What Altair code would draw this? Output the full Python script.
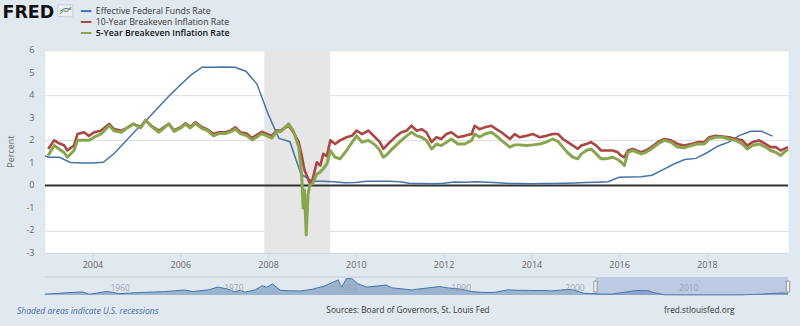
import altair as alt
import pandas as pd

BG = "#e1e9f0"
BLUE = "#4572a7"
RED = "#aa4643"
GREEN = "#89a54e"
FONT = "Open Sans"

# ---------------- data ----------------
series_names = ["Effective Federal Funds Rate", "10-Year Breakeven Inflation Rate",
                "5-Year Breakeven Inflation Rate"]

# quarterly effective federal funds rate (quarter start dates)
ffr_dates = [
    "2002-10-01",
    "2003-01-01", "2003-04-01", "2003-07-01", "2003-10-01",
    "2004-01-01", "2004-04-01", "2004-07-01", "2004-10-01",
    "2005-01-01", "2005-04-01", "2005-07-01", "2005-10-01",
    "2006-01-01", "2006-04-01", "2006-07-01", "2006-10-01",
    "2007-01-01", "2007-04-01", "2007-07-01", "2007-10-01",
    "2008-01-01", "2008-04-01", "2008-07-01", "2008-10-01",
    "2009-01-01", "2009-04-01", "2009-07-01", "2009-10-01",
    "2010-01-01", "2010-04-01", "2010-07-01", "2010-10-01",
    "2011-01-01", "2011-04-01", "2011-07-01", "2011-10-01",
    "2012-01-01", "2012-04-01", "2012-07-01", "2012-10-01",
    "2013-01-01", "2013-04-01", "2013-07-01", "2013-10-01",
    "2014-01-01", "2014-04-01", "2014-07-01", "2014-10-01",
    "2015-01-01", "2015-04-01", "2015-07-01", "2015-10-01",
    "2016-01-01", "2016-04-01", "2016-07-01", "2016-10-01",
    "2017-01-01", "2017-04-01", "2017-07-01", "2017-10-01",
    "2018-01-01", "2018-04-01", "2018-07-01", "2018-10-01",
    "2019-01-01", "2019-04-01", "2019-07-01",
]
ffr_values = [
    1.44,
    1.25, 1.25, 1.02, 1.00,
    1.00, 1.03, 1.43, 1.95,
    2.47, 2.94, 3.46, 3.98,
    4.46, 4.91, 5.25, 5.25,
    5.26, 5.25, 5.07, 4.50,
    3.18, 2.09, 1.94, 0.51,
    0.18, 0.18, 0.16, 0.12,
    0.13, 0.19, 0.19, 0.19,
    0.16, 0.09, 0.08, 0.07,
    0.10, 0.15, 0.14, 0.16,
    0.14, 0.12, 0.08, 0.09,
    0.07, 0.09, 0.09, 0.10,
    0.11, 0.13, 0.14, 0.16,
    0.36, 0.37, 0.39, 0.45,
    0.70, 0.95, 1.15, 1.20,
    1.45, 1.74, 1.92, 2.22,
    2.40, 2.40, 2.19,
]

# breakeven inflation rates (decimal years)
be_years = [
    2002.99, 2003.13, 2003.24, 2003.36, 2003.43, 2003.58, 2003.66, 2003.81, 2003.92,
    2004.04, 2004.19, 2004.38, 2004.49, 2004.66, 2004.81, 2004.93,
    2005.10, 2005.21, 2005.34, 2005.51, 2005.74, 2005.86,
    2006.01, 2006.12, 2006.23, 2006.35, 2006.50, 2006.61, 2006.76, 2006.88,
    2007.03, 2007.14, 2007.26, 2007.37, 2007.52, 2007.64, 2007.75, 2007.86, 2007.98,
    2008.09, 2008.20, 2008.28, 2008.47, 2008.58, 2008.70, 2008.77, 2008.80, 2008.83,
    2008.87, 2008.91, 2008.95,
    2009.02, 2009.11, 2009.19, 2009.26, 2009.34, 2009.42, 2009.53, 2009.64, 2009.79, 2009.91,
    2010.02, 2010.14, 2010.29, 2010.44, 2010.55, 2010.63, 2010.70, 2010.82, 2010.93,
    2011.04, 2011.16, 2011.27, 2011.39, 2011.50, 2011.61, 2011.73, 2011.84, 2011.95,
    2012.07, 2012.18, 2012.33, 2012.48, 2012.64, 2012.71, 2012.82, 2012.94,
    2013.09, 2013.20, 2013.32, 2013.51, 2013.62, 2013.73, 2013.89,
    2014.04, 2014.19, 2014.34, 2014.49, 2014.61, 2014.72, 2014.83, 2014.95,
    2015.06, 2015.14, 2015.25, 2015.36, 2015.48, 2015.59, 2015.70, 2015.86, 2015.97,
    2016.04, 2016.12, 2016.20, 2016.31, 2016.50, 2016.61, 2016.73, 2016.88,
    2017.03, 2017.18, 2017.33, 2017.48, 2017.64, 2017.79, 2017.94,
    2018.05, 2018.20, 2018.36, 2018.51, 2018.66, 2018.81, 2018.92,
    2019.04, 2019.19, 2019.34, 2019.45, 2019.57, 2019.68, 2019.76, 2019.85,
]
be10_values = [
    1.62, 2.00, 1.87, 1.77, 1.55, 1.77, 2.28, 2.36, 2.20,
    2.36, 2.43, 2.73, 2.50, 2.43, 2.58, 2.73,
    2.60, 2.88, 2.65, 2.43, 2.73, 2.45,
    2.58, 2.76, 2.60, 2.80, 2.58, 2.50, 2.28, 2.36,
    2.36, 2.43, 2.58, 2.36, 2.30, 2.10, 2.25, 2.38, 2.28,
    2.20, 2.45, 2.43, 2.65, 2.35, 1.92, 1.33, 1.00, 0.70,
    0.50, 0.30, 0.10,
    0.30, 1.03, 0.88, 1.40, 1.30, 2.00, 1.84, 2.00, 2.14, 2.20,
    2.43, 2.28, 2.43, 2.14, 1.92, 1.62, 1.77, 2.00, 2.20,
    2.36, 2.43, 2.65, 2.43, 2.50, 2.36, 1.92, 2.14, 2.06,
    2.28, 2.36, 2.14, 2.20, 2.28, 2.65, 2.50, 2.58,
    2.65, 2.50, 2.36, 2.06, 2.28, 2.14, 2.20,
    2.28, 2.14, 2.20, 2.28, 2.28, 2.06, 1.92, 1.77,
    1.62, 1.77, 1.84, 1.92, 1.77, 1.55, 1.55, 1.55, 1.47,
    1.33, 1.25, 1.55, 1.62, 1.47, 1.55, 1.70, 1.92,
    2.06, 2.00, 1.84, 1.77, 1.84, 1.92, 1.92,
    2.14, 2.20, 2.17, 2.14, 2.06, 2.00, 1.77,
    1.92, 2.00, 1.84, 1.70, 1.70, 1.55, 1.62, 1.70,
]
be5_values = [
    1.33, 1.77, 1.62, 1.45, 1.25, 1.55, 2.00, 2.00, 2.00,
    2.14, 2.28, 2.65, 2.43, 2.36, 2.58, 2.73,
    2.55, 2.90, 2.62, 2.36, 2.73, 2.40,
    2.55, 2.72, 2.55, 2.75, 2.52, 2.45, 2.20, 2.30,
    2.30, 2.38, 2.50, 2.30, 2.20, 2.02, 2.15, 2.30, 2.20,
    2.10, 2.40, 2.38, 2.73, 2.40, 1.70, 0.37, -1.00, -0.20,
    -2.20, -0.40, 0.00,
    0.10, 0.50, 0.60, 0.74, 0.96, 1.55, 1.25, 1.18, 1.55, 1.90,
    2.20, 1.92, 2.00, 1.80, 1.55, 1.25, 1.35, 1.60, 1.80,
    2.00, 2.20, 2.36, 2.20, 2.14, 2.00, 1.62, 1.84, 1.77,
    1.92, 2.06, 1.84, 1.84, 2.00, 2.28, 2.15, 2.28,
    2.36, 2.20, 2.00, 1.70, 1.80, 1.80, 1.77,
    1.80, 1.84, 1.92, 2.06, 1.95, 1.70, 1.45, 1.25,
    1.18, 1.40, 1.55, 1.62, 1.40, 1.18, 1.18, 1.25, 1.15,
    1.05, 0.88, 1.47, 1.55, 1.40, 1.47, 1.62, 1.84,
    2.00, 1.92, 1.70, 1.67, 1.77, 1.84, 1.84,
    2.06, 2.14, 2.14, 2.06, 2.00, 1.84, 1.62,
    1.77, 1.84, 1.70, 1.55, 1.47, 1.33, 1.47, 1.60,
]
assert len(be_years) == len(be10_values) == len(be5_values)

recession_start = ["2007-12-01"]
recession_end = ["2009-06-01"]

y_ticks = [-3, -2, -1, 0, 1, 2, 3, 4, 5, 6]
y_tick_labels = ["-3", "-2", "-1", "0", "1", "2", "3", "4", "5", "6"]
x_tick_years = [2004, 2006, 2008, 2010, 2012, 2014, 2016, 2018]

# navigator: long history of the federal funds rate (decimal years)
nav_years = [
    1954.5, 1955.5, 1956.5, 1957.8, 1958.4, 1959.9, 1960.5, 1961.0, 1962.0, 1963.0,
    1964.0, 1965.0, 1966.8, 1967.5, 1968.9, 1969.7, 1970.5, 1971.2, 1971.7, 1972.1,
    1973.0, 1973.6, 1974.0, 1974.5, 1975.2, 1976.0, 1977.0, 1978.0, 1979.0, 1980.3,
    1980.6, 1981.0, 1981.5, 1982.0, 1982.8, 1984.5, 1985.0, 1986.8, 1987.0, 1989.2,
    1990.0, 1991.0, 1992.0, 1993.0, 1994.0, 1995.2, 1996.0, 1997.0, 1998.8, 1999.0,
    2000.5, 2001.0, 2001.9, 2002.5, 2003.5, 2004.4, 2006.5, 2007.5, 2008.0, 2009.0,
    2012.0, 2015.9, 2016.0, 2017.0, 2018.0, 2019.3, 2019.6, 2019.85,
]
nav_values = [
    1.0, 1.7, 2.7, 3.5, 0.8, 4.0, 3.0, 1.5, 2.2, 3.0,
    3.4, 3.9, 5.8, 4.0, 6.0, 9.2, 7.2, 3.7, 5.5, 3.3,
    6.0, 10.8, 9.0, 12.9, 5.5, 4.9, 4.7, 6.7, 10.1, 17.6,
    9.0, 19.1, 19.1, 13.2, 9.2, 11.6, 8.4, 5.9, 6.4, 9.8,
    8.2, 6.9, 4.0, 3.0, 3.0, 6.0, 5.5, 5.3, 5.1, 4.7,
    6.5, 5.9, 1.9, 1.7, 1.0, 1.0, 5.25, 5.1, 3.0, 0.16,
    0.12, 0.12, 0.36, 0.66, 1.41, 2.4, 2.04, 1.83,
]
nav_label_years = [1960, 1970, 1980, 1990, 2000, 2010]


def to_date(y):
    yr = int(y)
    start = pd.Timestamp(yr, 1, 1)
    end = pd.Timestamp(yr + 1, 1, 1)
    return (start + (end - start) * (y - yr)).strftime("%Y-%m-%d")


ffr_df = pd.DataFrame({"date": ffr_dates, "value": ffr_values})
be_df = pd.DataFrame({"date": [to_date(y) for y in be_years],
                      "t10": be10_values, "t5": be5_values})
rec_df = pd.DataFrame({"start": recession_start, "end": recession_end})
ylab_df = pd.DataFrame({"g": y_ticks, "label": y_tick_labels})
zero_df = pd.DataFrame({"g": [0]})
one = pd.DataFrame({"a": [0]})

nav_df = pd.DataFrame({"date": [to_date(y) for y in nav_years], "v": nav_values})
sel_df = pd.DataFrame({"start": ["2002-12-01"], "end": ["2019-11-07"]})
handle_df = pd.DataFrame({"date": ["2002-12-01", "2019-11-07"]})
border_df = pd.DataFrame({"start": ["1954-07-01"], "end": ["2002-12-01"]})
navlab_df = pd.DataFrame({"date": [f"{y}-01-01" for y in nav_label_years],
                          "label": [str(y) for y in nav_label_years]})

# ---------------- main chart ----------------
xs = alt.Scale(domain=[alt.DateTime(year=2002, month=12, date=1),
                       alt.DateTime(year=2019, month=11, date=7)])
ys = alt.Scale(domain=[-3, 6], nice=False, zero=False)

xaxis = alt.Axis(values=[alt.DateTime(year=y, month=1, date=1) for y in x_tick_years],
                 format="%Y", grid=False, domainColor="#ccd6eb", tickColor="#ccd6eb",
                 tickSize=6, labelFont=FONT, labelFontSize=9, labelColor="#666666",
                 labelPadding=2, labelOverlap=False, title=None)
# y axis used only for its horizontal grid lines; labels are drawn as text marks
ygrid_axis = alt.Axis(values=y_ticks[1:], grid=True, gridColor="#dedede", gridWidth=1,
                      labels=False, ticks=False, domain=False, title=None)

corner = alt.Chart(one).mark_rect(color=BG).encode(
    x=alt.value(-44), x2=alt.value(-40), y=alt.value(-49.5), y2=alt.value(-45))

recess = alt.Chart(rec_df).mark_rect(color="#e6e6e6").encode(
    x=alt.X("start:T", scale=xs, axis=xaxis, title=None), x2="end:T")

ylabels = alt.Chart(ylab_df).mark_text(
    align="right", baseline="middle", dx=-10.5, font=FONT, fontSize=9,
    color="#666666").encode(x=alt.value(0),
                            y=alt.Y("g:Q", scale=ys, axis=ygrid_axis, title=None),
                            text="label:N")

ytitle = alt.Chart(one).mark_text(
    text="Percent", angle=270, align="center", baseline="middle", font=FONT, fontSize=9,
    color="#666666").encode(x=alt.value(-34), y=alt.value(101.6))

zero = alt.Chart(zero_df).mark_rule(color="#333333", strokeWidth=2).encode(
    y=alt.Y("g:Q", title=None))

ffr_line = alt.Chart(ffr_df).mark_line(color=BLUE, strokeWidth=1.5, clip=True).encode(
    x=alt.X("date:T", title=None), y=alt.Y("value:Q", title=None))
red_line = alt.Chart(be_df).mark_line(color=RED, strokeWidth=2.6, strokeJoin="round").encode(
    x=alt.X("date:T", title=None), y=alt.Y("t10:Q", title=None))
green_line = alt.Chart(be_df).mark_line(color=GREEN, strokeWidth=3.0, strokeJoin="round").encode(
    x=alt.X("date:T", title=None), y=alt.Y("t5:Q", title=None))

# legend (top left)
legend_layers = []
leg_colors = [BLUE, RED, GREEN]
leg_rows = [-39.3, -28.4, -17.3]
for i, name in enumerate(series_names):
    yv = leg_rows[i]
    legend_layers.append(alt.Chart(one).mark_rule(color=leg_colors[i], strokeWidth=2).encode(
        x=alt.value(36), x2=alt.value(46.7), y=alt.value(yv), y2=alt.value(yv)))
    legend_layers.append(alt.Chart(one).mark_text(
        text=name, align="left", baseline="middle", font=FONT, fontSize=8.8,
        fontWeight=600 if i == 2 else "normal",
        color="#111111" if i == 2 else "#333333").encode(
        x=alt.value(51), y=alt.value(yv)))

fred = alt.Chart(one).mark_text(text="FRED", align="left", baseline="alphabetic",
                                font="DejaVu Sans", fontWeight="bold", fontSize=17.5,
                                color="#111111").encode(x=alt.value(-42.5), y=alt.value(-32.8))
icon_box = alt.Chart(one).mark_rect(fill="#eef2f7", stroke="#b8c6d6", strokeWidth=0.8).encode(
    x=alt.value(13), x2=alt.value(28), y=alt.value(-45.5), y2=alt.value(-34))
icon_g1 = alt.Chart(one).mark_rule(color=GREEN, strokeWidth=1.2).encode(
    x=alt.value(15), x2=alt.value(19), y=alt.value(-36.5), y2=alt.value(-40))
icon_g2 = alt.Chart(one).mark_rule(color=GREEN, strokeWidth=1.2).encode(
    x=alt.value(19), x2=alt.value(22), y=alt.value(-40), y2=alt.value(-38.5))
icon_g3 = alt.Chart(one).mark_rule(color=GREEN, strokeWidth=1.2).encode(
    x=alt.value(22), x2=alt.value(26.5), y=alt.value(-38.5), y2=alt.value(-43.5))
icon_b1 = alt.Chart(one).mark_rule(color=BLUE, strokeWidth=1).encode(
    x=alt.value(15), x2=alt.value(20), y=alt.value(-39), y2=alt.value(-42))
icon_b2 = alt.Chart(one).mark_rule(color=BLUE, strokeWidth=1).encode(
    x=alt.value(20), x2=alt.value(26.5), y=alt.value(-42), y2=alt.value(-41))

main = alt.layer(
    corner, ylabels, recess, ytitle, zero, ffr_line, red_line, green_line,
    *legend_layers, fred, icon_box, icon_g1, icon_g2, icon_g3, icon_b1, icon_b2,
).properties(width=745, height=203.2,
             view=alt.ViewBackground(fill="white", stroke="transparent"))

# ---------------- navigator ----------------
nxs = alt.Scale(domain=[alt.DateTime(year=1954, month=7, date=1),
                        alt.DateTime(year=2019, month=11, date=7)])
nys = alt.Scale(domain=[0, 21], nice=False)

corner2 = alt.Chart(one).mark_rect(color=BG).encode(
    x=alt.value(751), x2=alt.value(756), y=alt.value(45), y2=alt.value(50))
nav_area = alt.Chart(nav_df).mark_area(
    color=BLUE, fillOpacity=0.45, line=alt.OverlayMarkDef(color=BLUE, strokeWidth=1)).encode(
    x=alt.X("date:T", scale=nxs, axis=None), y=alt.Y("v:Q", scale=nys, axis=None))
nav_border = alt.Chart(border_df).mark_rule(color="#c3cdd9", strokeWidth=1).encode(
    x="start:T", x2="end:T", y=alt.value(0))
nav_mask = alt.Chart(sel_df).mark_rect(color="#6685c2", opacity=0.3).encode(
    x="start:T", x2="end:T")
nav_labels = alt.Chart(navlab_df).mark_text(
    align="left", baseline="middle", dx=3, font=FONT, fontSize=8.5, color="#9aa5b5").encode(
    x="date:T", y=alt.value(11.5), text="label:N")
nav_handles = alt.Chart(handle_df).mark_point(
    shape="M-0.3,-1L0.3,-1L0.3,1L-0.3,1Z", filled=True, fill="#f2f2f2", stroke="#999999",
    strokeWidth=1, size=121, opacity=1).encode(x="date:T", y=alt.value(9.5))

foot1 = alt.Chart(one).mark_text(text="Shaded areas indicate U.S. recessions", align="left",
                                 baseline="middle", font=FONT, fontSize=8.6, fontStyle="italic",
                                 color="#3d6aa8").encode(x=alt.value(-28), y=alt.value(34))
foot2 = alt.Chart(one).mark_text(text="Sources: Board of Governors, St. Louis Fed",
                                 align="center", baseline="middle", font=FONT, fontSize=8.3,
                                 color="#333333").encode(x=alt.value(364), y=alt.value(34))
foot3 = alt.Chart(one).mark_text(text="fred.stlouisfed.org", align="center",
                                 baseline="middle", font=FONT, fontSize=8.3,
                                 color="#333333").encode(x=alt.value(656), y=alt.value(34))

nav = alt.layer(
    corner2, nav_area, nav_mask, nav_border, nav_labels, nav_handles, foot1, foot2, foot3
).properties(width=745, height=18,
             view=alt.ViewBackground(fill="transparent", stroke="transparent"))

chart = alt.vconcat(main, nav, spacing=23.3, bounds="flush").properties(
    padding=0, background=BG
).configure_view(stroke="transparent")

chart.save("out.html", embed_options={"renderer": "svg", "actions": False})
